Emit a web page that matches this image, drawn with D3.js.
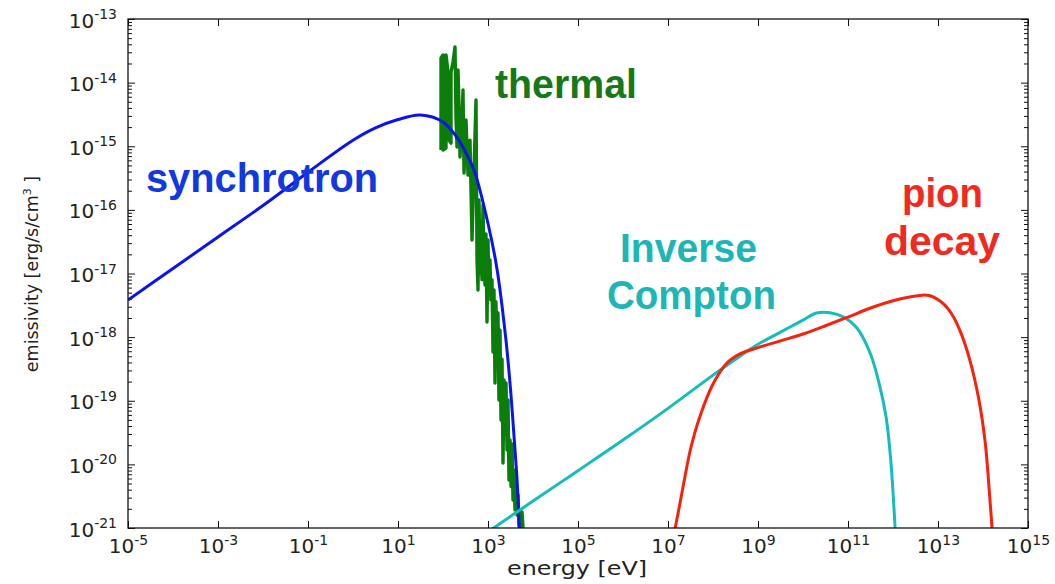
<!DOCTYPE html>
<html><head><meta charset="utf-8">
<script src="https://cdn.jsdelivr.net/npm/d3@7"></script>
<style>body{margin:0;background:#fff}</style>
</head><body><svg id="c" width="1055" height="584"></svg>
<script>
// ---- tick data ----
const xTickValues = [1e-5,1e-3,1e-1,1e1,1e3,1e5,1e7,1e9,1e11,1e13,1e15];
const xTickExponents = ["-5","-3","-1","1","3","5","7","9","11","13","15"];
const yTickValues = [1e-21,1e-20,1e-19,1e-18,1e-17,1e-16,1e-15,1e-14,1e-13];
const yTickExponents = ["-21","-20","-19","-18","-17","-16","-15","-14","-13"];

// ---- series (energy in eV, emissivity in erg/s/cm^3) ----
const synchrotronEnergy = [1e-5,1e-4,1e-3,1e-2,0.1,1,3.16,10,31.6,100,200,316,501,1000,1585,2512,3162,3981,4467,5012];
const synchrotronEmissivity = [3.83e-18,1.20e-17,3.75e-17,1.17e-16,3.90e-16,1.24e-15,1.94e-15,2.63e-15,3.10e-15,2.41e-15,1.40e-15,8.12e-16,4.01e-16,6.11e-17,1.18e-17,8.88e-19,1.53e-19,1.68e-20,5.09e-21,7.8e-22];

const thermalEnergy = [90.3,90.3,100,100,116.6,116.6,129.2,135.9,150.6,150.6,166.8,184.8,194.6,204.7,215.4,226.7,238.6,264.3,278.3,292.9,324.4,359.4,398.1,441.0,488.6,541.2,569.6,599.5,631.0,665,698.9,735,774.3,815,857.7,900,950.2,1000,1050,1108,1160,1227,1292,1359,1431,1500,1585,1668,1750,1848,1945,2050,2154,2268,2390,2512,2644,2780,2929,3083,3250,3415,3594,3780,3981,4190,4410,4642,4885,5140,5412,5696,5995];
const thermalEmissivity = [8.73e-16,2.44e-14,2.72e-14,8.73e-16,9.39e-16,2.72e-14,1.47e-14,1.25e-15,1.12e-15,1.47e-14,2.11e-14,3.63e-14,2.78e-15,9.73e-16,1.58e-14,4.45e-15,6.78e-16,2.16e-15,7.66e-15,3.80e-16,2.59e-15,3.53e-16,1.25e-15,3.36e-17,4.24e-16,5.33e-15,1.63e-17,5.51e-18,1.43e-16,1.0e-17,6.5e-17,8.0e-18,1.19e-16,1.4e-17,6.59e-18,4.2e-17,1.73e-18,3.36e-17,4.5e-18,1.63e-17,3.83e-18,8.0e-18,5.83e-19,5.51e-18,1.90e-19,3.6e-18,6.0e-19,2.4e-18,1.03e-19,1.29e-18,4.98e-20,4.5e-19,1.05e-20,2.12e-19,3.0e-20,1.9e-19,1.68e-20,1.03e-19,5.68e-21,2.42e-20,4.5e-21,2.1e-20,2.75e-21,8.16e-21,1.92e-21,4.8e-21,1.6e-21,3.30e-21,1.11e-21,1.92e-21,1.0e-21,1.78e-21,1.0e-21];

const inverseComptonEnergy = [1e3,1e4,1e5,1e6,1e7,1e8,3.16e8,1e9,3.16e9,1e10,2e10,3.98e10,7.94e10,1.58e11,3.16e11,5.01e11,7.08e11,8.91e11,1.12e12];
const inverseComptonEmissivity = [8.7e-22,2.65e-21,7.96e-21,2.41e-20,7.59e-20,2.53e-19,4.50e-19,7.71e-19,1.20e-18,1.85e-18,2.39e-18,2.42e-18,2.07e-18,1.39e-18,5.43e-19,1.77e-19,5.36e-20,1.17e-20,9.3e-22];

const pionDecayEnergy = [1.41e7,1.78e7,2.24e7,3.16e7,5.01e7,1e8,2e8,3.98e8,1e9,3.16e9,1e10,3.16e10,1e11,3.16e11,1e12,3.16e12,6.31e12,1.26e13,2e13,3.16e13,5.01e13,7.94e13,1.12e14,1.41e14,1.66e14];
const pionDecayEmissivity = [9.2e-22,2.14e-21,5.09e-21,1.73e-20,5.42e-20,1.83e-19,3.86e-19,5.45e-19,6.84e-19,8.75e-19,1.12e-18,1.51e-18,2.07e-18,2.87e-18,3.72e-18,4.43e-18,4.51e-18,3.44e-18,2.33e-18,1.21e-18,4.56e-19,1.12e-19,2.21e-20,3.09e-21,6.5e-22];

const annotationTexts = ["synchrotron","thermal","Inverse","Compton","pion","decay"];

// ---- drawing ----
const svg = d3.select('#c');
const m = {l:128, r:1028, t:19, b:528};
const x = d3.scaleLog().domain([1e-5,1e15]).range([m.l,m.r]);
const y = d3.scaleLog().domain([1e-21,1e-13]).range([m.b,m.t]);

svg.append('rect').attr('width',1055).attr('height',584).attr('fill','#fff');

svg.append('clipPath').attr('id','clip').append('rect')
  .attr('x',m.l).attr('y',m.t).attr('width',m.r-m.l).attr('height',m.b-m.t);

const yMinor = [];
yTickValues.slice(0,-1).forEach(v => { for (let k=2;k<=9;k++) yMinor.push(v*k); });

const FONT = "'DejaVu Sans', sans-serif";
function clean(g){
  g.select('.domain').remove();
  g.selectAll('line').attr('stroke','#111').attr('stroke-width',1);
}
const none = () => '';

// bottom axis
const gx = svg.append('g').attr('transform',`translate(0,${m.b})`)
  .call(d3.axisBottom(x).tickValues(xTickValues).tickSizeInner(-7).tickSizeOuter(0).tickFormat(none))
  .call(clean).attr('font-family',FONT).attr('font-size',20);
gx.selectAll('.tick text').each(function(d,i){
  const t = d3.select(this).attr('y',25).attr('dy',null).attr('fill','#222').attr('text-anchor','middle');
  t.text(null);
  t.append('tspan').text('10');
  t.append('tspan').attr('dy',-8).attr('font-size',14).text(xTickExponents[i]);
});
// top axis
svg.append('g').attr('transform',`translate(0,${m.t})`)
  .call(d3.axisTop(x).tickValues(xTickValues).tickSizeInner(-7).tickSizeOuter(0).tickFormat(none))
  .call(clean).selectAll('text').remove();

// left axis
const gy = svg.append('g').attr('transform',`translate(${m.l},0)`)
  .call(d3.axisLeft(y).tickValues(yTickValues).tickSizeInner(-7).tickSizeOuter(0).tickFormat(none))
  .call(clean).attr('font-family',FONT).attr('font-size',20);
gy.selectAll('.tick text').each(function(d,i){
  const t = d3.select(this).attr('x',-11).attr('y',8).attr('dy',null).attr('fill','#222').attr('text-anchor','end');
  t.text(null);
  t.append('tspan').text('10');
  t.append('tspan').attr('dy',-8.5).attr('font-size',14).text(yTickExponents[i]);
});
svg.append('g').attr('transform',`translate(${m.l},0)`)
  .call(d3.axisLeft(y).tickValues(yMinor).tickSizeInner(-4).tickSizeOuter(0).tickFormat(none))
  .call(clean).selectAll('text').remove();
// right axis
svg.append('g').attr('transform',`translate(${m.r},0)`)
  .call(d3.axisRight(y).tickValues(yTickValues).tickSizeInner(-7).tickSizeOuter(0).tickFormat(none))
  .call(clean).selectAll('text').remove();
svg.append('g').attr('transform',`translate(${m.r},0)`)
  .call(d3.axisRight(y).tickValues(yMinor).tickSizeInner(-4).tickSizeOuter(0).tickFormat(none))
  .call(clean).selectAll('text').remove();

// series
const plot = svg.append('g').attr('clip-path','url(#clip)');
const smooth = d3.line().x(d=>x(d[0])).y(d=>y(d[1])).curve(d3.curveCatmullRom.alpha(0.5));
const straight = d3.line().x(d=>x(d[0])).y(d=>y(d[1]));

plot.append('path').datum(d3.zip(thermalEnergy,thermalEmissivity))
  .attr('d',straight).attr('fill','none').attr('stroke','#0a7d0a').attr('stroke-width',3.4).attr('stroke-linejoin','round');
plot.append('path').datum(d3.zip(synchrotronEnergy,synchrotronEmissivity))
  .attr('d',smooth).attr('fill','none').attr('stroke','#0c14ee').attr('stroke-width',3);
plot.append('path').datum(d3.zip(inverseComptonEnergy,inverseComptonEmissivity))
  .attr('d',smooth).attr('fill','none').attr('stroke','#14bcbc').attr('stroke-width',3);
plot.append('path').datum(d3.zip(pionDecayEnergy,pionDecayEmissivity))
  .attr('d',smooth).attr('fill','none').attr('stroke','#f6220e').attr('stroke-width',3);

// frame
svg.append('rect').attr('x',m.l).attr('y',m.t).attr('width',m.r-m.l).attr('height',m.b-m.t)
  .attr('fill','none').attr('stroke','#111').attr('stroke-width',1.3);

// axis titles
svg.append('text').attr('x',577).attr('y',575).attr('text-anchor','middle')
  .attr('font-family',FONT).attr('font-size',19).attr('fill','#222')
  .attr('textLength',140).attr('lengthAdjust','spacingAndGlyphs').text('energy [eV]');
const yt = svg.append('text').attr('transform','translate(38,274) rotate(-90)').attr('text-anchor','middle')
  .attr('font-family',FONT).attr('font-size',17.5).attr('fill','#222');
yt.append('tspan').text('emissivity [erg/s/cm');
yt.append('tspan').attr('dy',-7).attr('font-size',11).text('3');
yt.append('tspan').attr('dy',7).text(' ]');

// annotations
const ann = [
  {x:146,y:192,w:232,c:'#1238e0'},
  {x:495,y:98,w:142,c:'#15791a'},
  {x:620,y:262,w:137,c:'#1cb6b6'},
  {x:607,y:309,w:169,c:'#1cb6b6'},
  {x:902,y:207,w:81,c:'#f02a1e'},
  {x:884,y:255,w:116,c:'#f02a1e'}
];
annotationTexts.forEach((s,i)=>{
  const a = ann[i];
  svg.append('text').attr('x',a.x).attr('y',a.y)
    .attr('font-family',"'Liberation Sans', Arial, sans-serif").attr('font-weight','bold').attr('font-size',40)
    .attr('fill',a.c).attr('textLength',a.w).attr('lengthAdjust','spacingAndGlyphs').text(s);
});
</script>
</body></html>
